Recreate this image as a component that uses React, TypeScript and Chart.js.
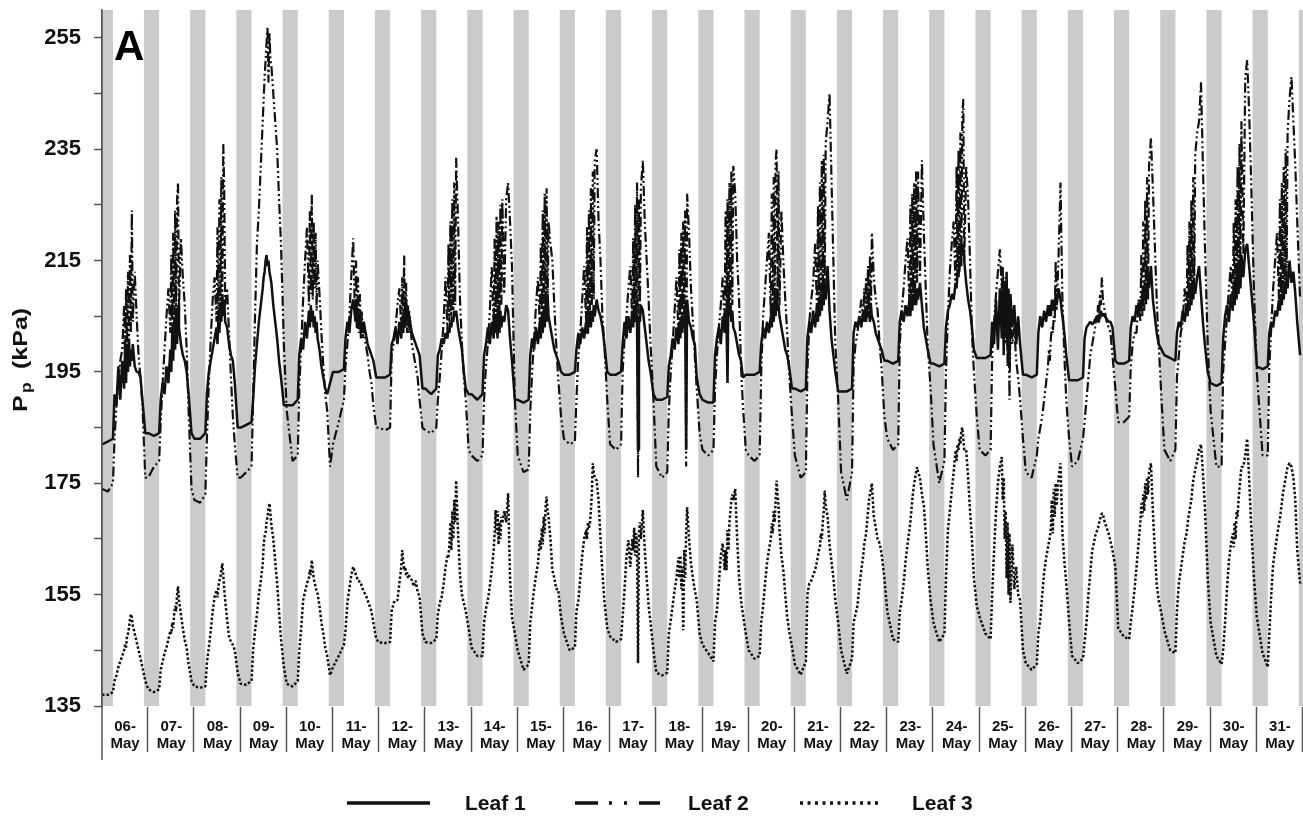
import React, { useEffect, useRef } from 'react';
import { Chart, registerables } from 'chart.js';

Chart.register(...registerables);

// ---------- data ----------
const DAY_LABELS = ['06', '07', '08', '09', '10', '11', '12', '13', '14', '15', '16', '17', '18', '19', '20', '21', '22', '23', '24', '25', '26', '27', '28', '29', '30', '31'];
const MONTH_LABEL = 'May';
// sampling hours inside each day
const HOURS = [0, 3, 5.7, 6.5, 7.5, 8.5, 9.5, 10.5, 11.5, 12, 12.5, 13, 13.5, 14, 14.5, 15, 15.5, 16, 17, 18, 19, 20, 21, 22.5];
// night (grey) period, hours
const NIGHT_START_HOUR = 21.8;
const NIGHT_END_HOUR = 5.7;

const Y_MIN = 135;
const Y_MAX = 260;
const Y_TICKS = [135, 145, 155, 165, 175, 185, 195, 205, 215, 225, 235, 245, 255];
const Y_LABELED = [135, 155, 175, 195, 215, 235, 255];

const SERIES_LABELS = ['Leaf 1', 'Leaf 2', 'Leaf 3'];
const PANEL_LABEL = 'A';
const Y_TITLE_MAIN = 'P';
const Y_TITLE_SUB = 'p';
const Y_TITLE_UNIT = '(kPa)';

const LEAF1: number[][] = [
  [182, 182.5, 183, 191, 189, 196, 190, 197, 192, 199, 193, 200, 195, 201, 196, 199, 197, 200, 196, 195, 195, 194, 190, 184],
  [184, 183.5, 184, 190, 193, 191, 196, 193, 199, 195, 202, 197, 204, 199, 206, 200, 207, 203, 200, 198, 197, 195, 191, 184],
  [183, 183, 184, 191, 195, 197, 199, 201, 203, 200, 205, 202, 207, 204, 209, 205, 208, 204, 203, 200, 198, 197, 193, 185],
  [185, 185.5, 186, 190, 196, 200, 204, 207, 210, 212, 213, 215, 216, 214, 215, 213, 212, 211, 207, 204, 201, 197, 194, 189],
  [189, 189, 190, 198, 201, 199, 204, 201, 206, 203, 207, 204, 206, 203, 205, 202, 204, 201, 199, 196, 194, 192, 191, 193],
  [195, 195, 195.5, 201, 204, 202, 206, 208, 205, 207, 203, 206, 203, 205, 202, 204, 203, 204, 202, 200, 199, 198, 197, 194],
  [194, 194, 194.5, 200, 201, 203, 200, 204, 201, 205, 202, 206, 203, 208, 204, 206, 203, 204, 202, 201, 200, 199, 198, 192],
  [192, 191, 192, 198, 199, 201, 200, 202, 201, 203, 202, 204, 203, 205, 204, 206, 205, 206, 203, 201, 199, 195, 192, 191],
  [191, 190, 191, 198, 200, 203, 200, 204, 201, 205, 202, 205, 201, 206, 202, 206, 203, 205, 204, 207, 206, 201, 197, 190],
  [190, 189.5, 190, 198, 201, 199, 203, 200, 204, 201, 205, 202, 206, 203, 207, 204, 209, 205, 203, 201, 199, 198, 197, 195],
  [194.5, 194.5, 195, 199, 202, 200, 203, 201, 204, 202, 205, 203, 206, 203, 206, 204, 207, 205, 208, 206, 205, 203, 200, 195],
  [194.5, 194.5, 195, 200, 204, 201, 205, 202, 206, 203, 207, 204, 207, 203, 181, 205, 204, 207, 206, 203, 200, 197, 195, 191],
  [190, 190, 190.5, 196, 198, 201, 199, 203, 200, 204, 201, 205, 202, 205, 203, 206, 181, 208, 204, 203, 201, 200, 194, 191],
  [190, 189.5, 189.5, 198, 201, 203, 200, 205, 202, 206, 203, 193, 210, 205, 207, 204, 206, 203, 202, 200, 198, 197, 194, 194.5],
  [194.5, 194.5, 195, 200, 203, 201, 204, 202, 205, 203, 207, 204, 208, 205, 210, 206, 207, 205, 203, 201, 199, 198, 196, 192],
  [192, 191.5, 192, 201, 204, 202, 206, 203, 207, 204, 208, 205, 209, 206, 210, 207, 211, 208, 214, 206, 201, 198, 195, 191.5],
  [191.5, 191.5, 192, 202, 204, 203, 205, 203, 206, 204, 206, 204, 207, 205, 206, 204, 207, 205, 204, 202, 201, 200, 199, 197],
  [197, 196.5, 197, 204, 206, 204, 207, 205, 208, 205, 209, 206, 209, 207, 210, 207, 210, 208, 211, 207, 203, 201, 199, 196.5],
  [196.5, 196, 196.5, 203, 206, 207, 209, 208, 211, 210, 213, 212, 215, 214, 217, 216, 218, 215, 211, 208, 206, 203, 199, 197.5],
  [197.5, 197.5, 198, 204, 200, 208, 199, 210, 201, 212, 198, 211, 202, 213, 199, 210, 196, 209, 203, 207, 200, 205, 200, 194.5],
  [194.5, 194, 194.5, 202, 205, 203, 206, 204, 207, 205, 207, 205, 208, 206, 208, 206, 209, 207, 210, 208, 205, 202, 198, 193.5],
  [193.5, 193.5, 194, 201, 203, 203.5, 204, 203.5, 204, 204.5, 204, 205, 204, 205, 204.5, 206, 205, 205.5, 205, 204.5, 204, 204, 203, 197],
  [196.5, 196.5, 197, 203, 205, 204, 207, 205, 208, 206, 209, 207, 210, 208, 211, 209, 212, 210, 214, 208, 205, 202, 200, 199],
  [198, 197.5, 197, 202, 204, 203, 206, 204, 207, 205, 208, 206, 209, 207, 210, 208, 211, 209, 212, 214, 209, 204, 200, 195],
  [193, 192.5, 193, 201, 205, 207, 204, 209, 206, 211, 207, 212, 208, 214, 209, 215, 210, 216, 212, 217, 218, 214, 210, 204],
  [196, 195.5, 196, 202, 204, 203, 206, 205, 208, 206, 209, 207, 210, 208, 211, 209, 212, 210, 215, 211, 213, 209, 204, 198],
];

const LEAF2: number[][] = [
  [174, 173.5, 175, 183, 189, 193, 197, 199, 207, 196, 210, 198, 213, 200, 216, 202, 224, 204, 213, 205, 198, 194, 189, 176],
  [176, 178, 179, 186, 193, 199, 205, 210, 202, 216, 200, 220, 203, 224, 205, 226, 229, 206, 219, 212, 207, 199, 188, 174],
  [172, 171.5, 173, 183, 193, 201, 208, 212, 204, 221, 203, 226, 206, 230, 208, 236, 228, 207, 210, 202, 194, 187, 182, 176],
  [176, 177, 178, 190, 205, 218, 224, 232, 240, 244, 248, 251, 254, 257, 247, 256, 251, 250, 245, 240, 235, 226, 218, 200],
  [188, 179, 180, 192, 200, 208, 215, 221, 207, 224, 209, 227, 208, 222, 210, 220, 206, 215, 209, 202, 196, 191, 188, 178],
  [182, 186, 190, 196, 200, 205, 212, 219, 204, 215, 203, 212, 202, 209, 201, 206, 201, 203, 200, 198, 195, 193, 189, 185],
  [185, 184.5, 185, 198, 200, 203, 207, 210, 203, 212, 202, 216, 203, 211, 202, 207, 202, 205, 200, 198, 196, 194, 190, 185],
  [184.5, 184, 185, 190, 194, 199, 204, 212, 202, 218, 204, 222, 205, 226, 206, 229, 207, 233.5, 222, 208, 200, 194, 190, 181],
  [180, 179, 180, 190, 196, 200, 206, 214, 203, 219, 204, 223, 205, 222, 206, 225, 207, 226, 209, 226, 229, 222, 214, 190],
  [180, 177, 177.5, 188, 195, 201, 207, 212, 203, 218, 204, 224, 205, 227, 206, 228, 207, 222, 218, 215, 207, 200, 194, 187],
  [183, 182, 182.5, 190, 198, 202, 208, 214, 204, 221, 205, 224, 206, 228, 207, 231, 208, 233, 235, 222, 215, 205, 200, 190],
  [182, 181, 182, 195, 201, 205, 210, 214, 204, 219, 205, 225, 206, 229, 176, 226, 207, 228, 233, 222, 215, 208, 200, 190],
  [178, 176, 177, 188, 195, 200, 206, 212, 202, 217, 203, 220, 204, 222, 205, 224, 178, 227, 220, 210, 204, 198, 192, 184],
  [181, 180, 181, 192, 198, 203, 207, 212, 203, 224, 204, 226, 205, 229, 206, 231, 207, 232, 227, 215, 208, 196, 189, 181],
  [180, 179, 180, 195, 205, 210, 215, 220, 205, 227, 206, 230, 207, 233, 235, 208, 231, 207, 224, 215, 208, 202, 195, 187],
  [180, 176, 177, 195, 204, 208, 211, 218, 206, 225, 207, 229, 208, 233, 209, 234, 210, 236, 240, 245, 230, 215, 200, 190],
  [177, 172, 177, 196, 200, 202, 205, 208, 204, 210, 205, 212, 205, 214, 206, 216, 206, 220, 212, 208, 206, 200, 196, 187],
  [183, 181, 182, 200, 206, 210, 215, 219, 207, 225, 208, 227, 209, 229, 210, 231, 211, 231, 212, 233, 220, 210, 200, 192],
  [182, 175, 179, 195, 205, 213, 218, 222, 210, 232, 212, 235, 213, 238, 214, 241, 244, 215, 232, 226, 215, 202, 195, 187],
  [181, 180, 181, 198, 204, 209, 213, 217, 210, 214, 205, 212, 200, 210, 196, 208, 190, 205, 200, 203, 197, 194, 190, 183],
  [177, 176, 180, 183, 185, 187, 190, 193, 196, 199, 197, 201, 203, 202, 205, 204, 215, 206, 216, 229, 208, 198, 190, 183],
  [178, 179, 183, 186, 190, 194, 198, 200, 202, 203, 205, 204, 207, 205, 209, 207, 212, 208, 206, 204, 203, 202, 198, 192],
  [186, 186, 187, 196, 200, 202, 202, 208, 204, 216, 205, 222, 206, 226, 207, 230, 208, 232, 237, 228, 218, 208, 200, 190],
  [181, 179, 181, 194, 198, 202, 204, 210, 205, 218, 206, 222, 207, 226, 208, 230, 210, 234, 238, 240, 247, 232, 218, 200],
  [188, 178, 178, 195, 200, 205, 210, 214, 206, 222, 208, 226, 209, 232, 210, 236, 212, 240, 216, 248, 251, 242, 230, 210],
  [195, 180, 180, 196, 203, 210, 215, 220, 208, 226, 209, 229, 210, 232, 211, 235, 212, 238, 244, 248, 240, 232, 222, 208],
];

const LEAF3: number[][] = [
  [137, 137, 137.5, 139.5, 140.5, 142, 143, 144, 145, 146, 145.5, 147.5, 148, 149, 150.5, 151.5, 151, 149.5, 148, 146.5, 145, 143.5, 142, 139.5],
  [138, 137.5, 138, 141.5, 143, 144.5, 145.5, 147, 148.5, 148, 150, 149, 151.5, 153, 152, 155, 156.5, 154, 151.5, 149, 146.8, 145.5, 142.5, 139.5],
  [138.5, 138.3, 138.5, 142.7, 145.5, 148.5, 152, 154.6, 155.8, 154.5, 156.5, 157.5, 158, 159.5, 160.6, 158.5, 156, 154, 150.5, 147.5, 146.5, 146, 145, 141],
  [139, 138.8, 139.5, 145, 148.5, 151.5, 155, 157.5, 160.5, 164, 165.5, 166, 168, 169, 170.5, 171.4, 169.5, 167.5, 165, 161, 157, 152, 147, 142],
  [139, 138.5, 139.5, 145, 149, 154, 155.5, 157, 158, 159.5, 158.5, 161.2, 159.5, 158, 157, 156.5, 155.5, 155.2, 153, 150, 148, 145.5, 144, 140.5],
  [142, 144, 146, 148.5, 153.5, 156, 158.5, 160, 159, 158.5, 158, 157.5, 157.5, 157, 157, 156.5, 156, 155.5, 155, 154, 153, 152, 150, 147],
  [146.4, 146.3, 146.5, 152, 153.5, 154, 154, 157, 160, 163, 161, 159.4, 160, 158.5, 159, 158, 158.5, 158, 157.6, 156.5, 157.5, 155.5, 154.6, 148],
  [146.5, 146.3, 147, 151.5, 153.5, 154.6, 157, 160, 162, 161.7, 164, 168, 163, 170, 165, 172, 168, 175.5, 166, 158.5, 155, 153.5, 152, 149],
  [145.5, 144, 144, 150, 152.5, 154, 156.5, 159.4, 163, 166, 170.2, 166, 170, 164, 168, 165, 169, 167.8, 170, 168, 173.2, 158, 151, 148],
  [145, 141.5, 142.5, 150, 153, 156, 158.5, 160.6, 164.8, 163, 167, 164, 169, 166, 171, 172.6, 170, 169, 165, 159.4, 158, 156, 156, 151],
  [148, 145, 145.5, 152, 154, 158, 162, 165, 166.6, 165, 168, 167, 167.8, 170, 173, 178.6, 177, 176, 175.5, 172, 165, 159, 154, 149],
  [147.5, 146.5, 147, 151, 156, 162, 164.8, 160, 165, 163, 167, 162, 166, 164, 142.7, 166, 168, 165, 170.2, 163, 158, 153, 150, 145],
  [141, 140.5, 141, 148, 150.4, 153, 155.8, 158, 161.7, 158, 162, 156, 160, 148.6, 163, 158, 166, 170.7, 165, 160.6, 158, 155.8, 154, 148],
  [146, 144.5, 143, 150, 152.2, 157, 162, 164.2, 159.4, 163, 159.4, 166.6, 163, 168, 170, 172, 173, 172, 174, 165, 158, 154, 151.5, 148],
  [145, 143.5, 144, 150, 153, 157, 160.6, 163, 165, 167.8, 166, 170, 168, 172, 175.5, 173, 171, 166.6, 162, 159.4, 155, 151, 148.5, 145.6],
  [142.5, 140.6, 143, 155, 157, 157.5, 158.5, 159.4, 161, 162, 163, 163.5, 166, 165, 168, 170, 173.7, 171, 169, 164, 161, 158, 154, 150],
  [145, 140.8, 143.5, 150, 151.5, 153, 156.5, 159.4, 162, 164, 165, 166, 168, 170, 172, 173, 174, 175, 169, 167.1, 165, 164.2, 162.5, 158],
  [152, 147, 146.5, 152, 154, 157, 161, 164, 166.6, 168, 170, 172, 173.7, 175, 176, 177, 177.9, 177, 176, 173, 171, 166, 160, 154],
  [150, 146.5, 148, 158, 166.6, 170, 173.7, 177, 180.9, 179, 182, 181, 183, 182, 184.5, 185, 183, 181, 181, 176, 170, 165, 158, 153],
  [151, 148, 147, 155, 163, 170, 175, 178, 179.7, 172, 176, 165, 170, 158, 168, 155, 166, 153.5, 164, 156, 160, 155, 154, 145],
  [142.7, 141.5, 142.5, 148, 150.5, 155, 159, 161.5, 163.5, 164.5, 165.3, 167, 172, 166, 174, 169, 175, 171, 176, 178.6, 166, 161, 157, 150],
  [144, 142.7, 143.5, 146.5, 150, 155, 159, 163, 164.5, 165.5, 166, 166.5, 167, 167.8, 168.5, 169, 169.6, 169.5, 168, 167, 166, 164.5, 163, 160],
  [149, 147.4, 147, 150, 152.8, 156, 160, 164, 168, 171.4, 169, 173, 170, 175, 172, 176, 173, 177, 178.6, 170, 163, 157, 154, 151.5],
  [148.5, 145, 144.5, 152, 157, 159.5, 162, 164.5, 166, 167.5, 169, 170, 171, 172, 174, 175.5, 176.5, 177.5, 179, 181, 182, 177, 171, 158],
  [150, 144, 142.5, 145, 150, 156, 161, 164, 166, 163.5, 168, 165, 170, 169, 172, 174, 176, 177.9, 178, 180, 183, 176, 168, 158],
  [151, 144.5, 142, 148, 155, 160.5, 163, 165.5, 167.8, 168.5, 170, 171.5, 173, 174, 175, 176, 177, 178, 178.6, 178, 176, 172, 163, 157],
];

// ---------- styling ----------
const FONT = "'Liberation Sans', Arial, Helvetica, sans-serif";
const INK = '#111111';
const AXIS = '#555555';
const NIGHT_FILL = '#cbcbcb';
const DASHES: number[][] = [[], [10, 3, 2, 3, 2, 3], [2.5, 2]];
const WIDTHS = [2.5, 2.2, 2.5];

function toPoints(rows: number[][]) {
  const pts: { x: number; y: number }[] = [];
  rows.forEach((row, d) => {
    row.forEach((v, i) => pts.push({ x: d + HOURS[i] / 24, y: v }));
  });
  return pts;
}

const nightBandsPlugin = {
  id: 'nightBands',
  beforeDatasetsDraw(chart: any) {
    const { ctx, chartArea: a, scales } = chart;
    const xs = scales.x;
    ctx.save();
    ctx.beginPath();
    ctx.rect(a.left, a.top, a.right - a.left, a.bottom - a.top);
    ctx.clip();
    ctx.fillStyle = NIGHT_FILL;
    for (let d = 0; d <= DAY_LABELS.length; d++) {
      const x0 = xs.getPixelForValue(d - 1 + NIGHT_START_HOUR / 24);
      const x1 = xs.getPixelForValue(d + NIGHT_END_HOUR / 24);
      ctx.fillRect(x0, a.top, x1 - x0, a.bottom - a.top);
    }
    ctx.restore();
  },
};

const decorPlugin = {
  id: 'decor',
  afterDraw(chart: any) {
    const { ctx, chartArea: a, scales } = chart;
    const xs = scales.x;
    ctx.save();
    // y axis line (extends below the plot)
    ctx.strokeStyle = AXIS;
    ctx.lineWidth = 1.5;
    ctx.beginPath();
    ctx.moveTo(a.left, a.top);
    ctx.lineTo(a.left, a.bottom + 54);
    ctx.stroke();
    // day separators under the plot
    for (let d = 1; d <= DAY_LABELS.length; d++) {
      const x = Math.round(xs.getPixelForValue(d)) - 0.5;
      ctx.beginPath();
      ctx.moveTo(x, a.bottom + 1);
      ctx.lineTo(x, a.bottom + 46);
      ctx.stroke();
    }
    // panel label
    ctx.fillStyle = '#000';
    ctx.font = `bold 42px ${FONT}`;
    ctx.textAlign = 'left';
    ctx.textBaseline = 'alphabetic';
    ctx.fillText(PANEL_LABEL, a.left + 12, a.top + 50);

    // y axis title (rotated, with subscript)
    const drawRot = (text: string, x: number, y: number, size: number) => {
      ctx.save();
      ctx.translate(x, y);
      ctx.rotate(-Math.PI / 2);
      ctx.scale(1.25, 1);
      ctx.font = `bold ${size}px ${FONT}`;
      ctx.textAlign = 'left';
      ctx.textBaseline = 'alphabetic';
      ctx.fillStyle = INK;
      ctx.fillText(text, 0, 0);
      ctx.restore();
    };
    drawRot(Y_TITLE_MAIN, 27, 412, 20);
    drawRot(Y_TITLE_SUB, 31, 393, 14);
    drawRot(Y_TITLE_UNIT, 27, 369, 20);

    // legend
    const ly = 803;
    const items = [
      { x0: 347, x1: 430, tx: 465, dash: [] as number[] },
      { x0: 575, x1: 660, tx: 688, dash: [23, 11, 3, 12, 3, 12] },
      { x0: 800, x1: 880, tx: 912, dash: [3, 4.5] },
    ];
    items.forEach((it, i) => {
      ctx.strokeStyle = INK;
      ctx.lineWidth = 3.5;
      ctx.setLineDash(it.dash);
      ctx.beginPath();
      ctx.moveTo(it.x0, ly);
      ctx.lineTo(it.x1, ly);
      ctx.stroke();
      ctx.setLineDash([]);
      ctx.fillStyle = INK;
      ctx.font = `bold 21px ${FONT}`;
      ctx.textAlign = 'left';
      ctx.textBaseline = 'middle';
      ctx.fillText(SERIES_LABELS[i], it.tx, ly + 1);
    });
    ctx.restore();
  },
};

export default function App() {
  const canvasRef = useRef<HTMLCanvasElement | null>(null);

  useEffect(() => {
    document.body.style.margin = '0';
    document.body.style.overflow = 'hidden';
    const canvas = canvasRef.current;
    if (!canvas) return;
    const series = [LEAF1, LEAF2, LEAF3];
    const chart = new Chart(canvas, {
      type: 'line',
      data: {
        datasets: series.map((rows, i) => ({
          label: SERIES_LABELS[i],
          data: toPoints(rows),
          borderColor: INK,
          backgroundColor: INK,
          borderWidth: WIDTHS[i],
          borderDash: DASHES[i],
          borderJoinStyle: 'bevel' as const,
          pointRadius: 0,
          tension: 0,
          fill: false,
        })),
      },
      options: {
        responsive: false,
        devicePixelRatio: 1,
        animation: false,
        parsing: false as any,
        normalized: true,
        layout: { padding: { top: 10, right: 0, bottom: 0, left: 0 } },
        plugins: {
          legend: { display: false },
          tooltip: { enabled: false },
        },
        scales: {
          x: {
            type: 'linear',
            min: 0,
            max: DAY_LABELS.length,
            afterBuildTicks: (s: any) => {
              s.ticks = DAY_LABELS.map((_, i) => ({ value: i + 0.5 }));
            },
            afterFit: (s: any) => {
              s.height = 110;
              s.paddingLeft = 0;
              s.paddingRight = 0;
            },
            ticks: {
              autoSkip: false,
              maxRotation: 0,
              minRotation: 0,
              padding: 13,
              color: INK,
              font: { family: FONT, size: 15, weight: 'bold', lineHeight: 1.1 },
              callback: (v: any) => {
                const d = Math.floor(Number(v));
                return [DAY_LABELS[d] + '-', MONTH_LABEL];
              },
            },
            grid: { display: false, drawTicks: false },
            border: { display: false },
          },
          y: {
            type: 'linear',
            min: Y_MIN,
            max: Y_MAX,
            afterBuildTicks: (s: any) => {
              s.ticks = Y_TICKS.map((v) => ({ value: v }));
            },
            afterFit: (s: any) => {
              s.width = 102;
              s.paddingTop = 0;
              s.paddingBottom = 0;
            },
            ticks: {
              padding: 13,
              color: INK,
              font: { family: FONT, size: 22, weight: 'bold' },
              callback: (v: any) => (Y_LABELED.includes(Number(v)) ? String(v) : ''),
            },
            grid: { drawOnChartArea: false, tickLength: 8, tickColor: AXIS, tickWidth: 1.5 },
            border: { display: true, color: AXIS, width: 1.5 },
          },
        },
      },
      plugins: [nightBandsPlugin, decorPlugin],
    });
    return () => chart.destroy();
  }, []);

  return (
    <div style={{ width: 1303, height: 816, background: '#fff' }}>
      <canvas ref={canvasRef} width={1303} height={816} style={{ display: 'block' }} />
    </div>
  );
}
